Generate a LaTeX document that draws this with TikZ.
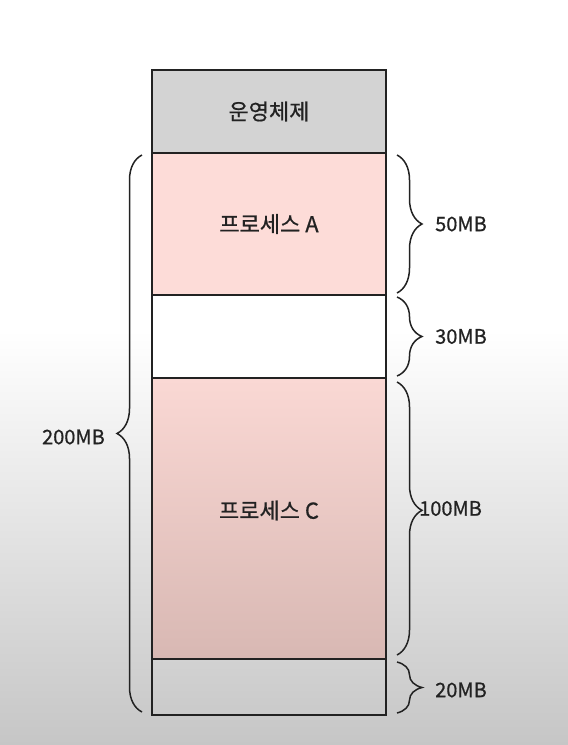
\documentclass[tikz,border=0pt]{standalone}
\usepackage{fontspec}
\setmainfont{Noto Sans CJK KR}[FakeBold=0.6]
\usetikzlibrary{decorations.pathreplacing}
\definecolor{osgray}{HTML}{D3D3D3}
\definecolor{pinkA}{HTML}{FDDCD8}
\definecolor{pinkTop}{HTML}{FAD8D4}
\definecolor{pinkBot}{HTML}{D8B8B3}
\definecolor{bgBot}{HTML}{C6C6C6}
\definecolor{ink}{HTML}{222222}
\begin{document}
\begin{tikzpicture}[x=1pt,y=-1pt,
  block/.style={draw=ink, line width=1.2pt, minimum width=234pt, inner sep=0pt, outer sep=0pt},
  mybrace/.style={draw=ink, line width=1.5pt, decorate, decoration={brace, amplitude=25pt}},
  kor/.style={text=ink, font=\fontsize{22}{24}\selectfont, inner sep=0pt},
  lbl/.style={text=ink, font=\fontsize{20}{22}\selectfont, inner sep=0pt}]
% background
\fill[white] (0,0) rectangle (568,745);
\shade[top color=white, bottom color=bgBot] (0,330) rectangle (568,745);
\useasboundingbox (0,0) rectangle (568,745);
% blocks
\node[block, fill=osgray, minimum height=83pt] (os) at (269,111.5) {};
\node[block, fill=pinkA, minimum height=142pt] (pa) at (269,224) {};
\node[block, fill=white, minimum height=83pt] (gap) at (269,336.5) {};
\node[block, top color=pinkTop, bottom color=pinkBot, minimum height=281pt] (pc) at (269,518.5) {};
\node[block, minimum height=56pt] (fr) at (269,687) {};
% texts
\node[kor] (tos) at (os.center) {운영체제};
\node[kor] (tpa) at (pa.center) {프로세스 A};
\node[kor] (tpc) at ([yshift=8pt]pc.center) {프로세스 C};
% right braces
\draw[mybrace] ([xshift=11pt,yshift=-2pt]pa.north east) -- ([xshift=11pt,yshift=2pt]pa.south east);
\draw[mybrace] ([xshift=11pt,yshift=-2pt]gap.north east) -- ([xshift=11pt,yshift=2pt]gap.south east);
\draw[mybrace, decoration={brace, amplitude=25pt, aspect=0.47}] ([xshift=11pt,yshift=-4pt]pc.north east) -- ([xshift=11pt,yshift=4pt]pc.south east);
\draw[mybrace] ([xshift=11pt,yshift=-3pt]fr.north east) -- ([xshift=11pt,yshift=2pt]fr.south east);
% left brace
\coordinate (lb) at ([xshift=-10pt,yshift=3pt]fr.south west);
\coordinate (lt) at ([xshift=-10pt,yshift=-2pt]pa.north west);
\draw[mybrace] (lb) -- (lt);
% labels
\node[lbl, anchor=west] (l50) at ([xshift=49pt]pa.east) {50MB};
\node[lbl, anchor=west] (l30) at ([xshift=49pt]gap.east) {30MB};
\node[lbl, anchor=west] (l100) at ([xshift=33pt,yshift=10pt]pc.east) {100MB};
\node[lbl, anchor=west] (l20) at ([xshift=49pt,yshift=-3pt]fr.east) {20MB};
\node[lbl, anchor=east] (l200) at (105,437) {200MB};
\end{tikzpicture}
\end{document}
